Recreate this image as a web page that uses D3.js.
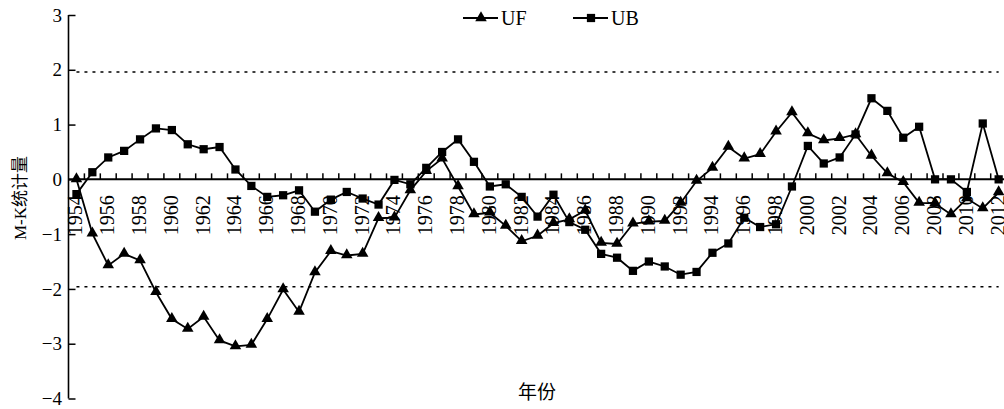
<!DOCTYPE html>
<html><head><meta charset="utf-8">
<script src="https://cdn.jsdelivr.net/npm/d3@7"></script>
<style>
html,body{margin:0;padding:0;background:#fff;}
svg{display:block;}
text{fill:#000;}
</style></head>
<body>
<svg id="c" width="1004" height="409"></svg>
<script>
const years = d3.range(1954, 2013);
const UF = [0.00, -0.99, -1.57, -1.36, -1.48, -2.06, -2.55, -2.73, -2.51, -2.94, -3.05, -3.02, -2.55, -2.01, -2.42,
  -1.70, -1.31, -1.39, -1.36, -0.71, -0.70, -0.20, 0.15, 0.38, -0.13, -0.64, -0.61, -0.85, -1.13, -1.03,
  -0.80, -0.73, -0.57, -1.16, -1.18, -0.81, -0.77, -0.76, -0.43, -0.03, 0.21, 0.59, 0.38, 0.46, 0.87,
  1.22, 0.84, 0.71, 0.75, 0.82, 0.43, 0.11, -0.05, -0.43, -0.44, -0.64, -0.35, -0.53, -0.24];
const UB = [-0.27, 0.13, 0.40, 0.52, 0.73, 0.93, 0.90, 0.64, 0.55, 0.59, 0.18, -0.12, -0.32, -0.29, -0.20,
  -0.59, -0.37, -0.23, -0.35, -0.46, -0.01, -0.09, 0.21, 0.50, 0.73, 0.32, -0.13, -0.09, -0.32, -0.68,
  -0.28, -0.78, -0.92, -1.36, -1.43, -1.67, -1.50, -1.59, -1.74, -1.69, -1.34, -1.17, -0.70, -0.87, -0.82,
  -0.13, 0.61, 0.29, 0.40, 0.82, 1.48, 1.25, 0.76, 0.96, 0.00, 0.00, -0.23, 1.02, 0.00];
const yTicks = [3, 2, 1, 0, -1, -2, -3, -4];
const xLabels = years.filter(y => y % 2 === 0);
const critical = [1.96, -1.96];
const seriesNames = ["UF", "UB"];

const svg = d3.select("#c");
const x0 = 68.5, bw = 15.9;
const x = d3.scaleBand().domain(years).range([x0, x0 + bw * years.length]).padding(0);
const cx = d => x(d) + x.bandwidth() / 2;
const y = d3.scaleLinear().domain([-4, 3]).range([398.5, 15]);
const serif = "'Liberation Serif','Times New Roman',serif";
const cjk = "'Liberation Serif','Noto Sans CJK SC',serif";

// critical dotted lines
svg.selectAll(".crit").data(critical).enter().append("line")
  .attr("x1", cx(years[0])).attr("x2", cx(years[years.length - 1]))
  .attr("y1", d => y(d)).attr("y2", d => y(d))
  .attr("stroke", "#000").attr("stroke-width", 1.5).attr("stroke-dasharray", "3,5");

// y axis
const yAxis = d3.axisRight(y).tickValues(yTicks).tickSize(7).tickFormat("");
const gy = svg.append("g").attr("transform", `translate(${x0},0)`).call(yAxis);
gy.select(".domain").attr("stroke", "#000").attr("stroke-width", 1.6).attr("d", `M0,${y(3)}V${y(-4)}`);
gy.selectAll(".tick line").attr("stroke", "#000").attr("stroke-width", 1.5);
svg.selectAll(".ylab").data(yTicks).enter().append("text")
  .attr("x", 62).attr("y", d => y(d)).attr("dy", "0.35em")
  .attr("text-anchor", "end").style("font-family", serif).style("font-size", "19px")
  .text(d => d < 0 ? "\u2212" + Math.abs(d) : d);

// x axis at zero
const boundaries = years.slice(1).map(d => x(d)).concat([x0 + bw * years.length]);
svg.append("line").attr("x1", x0).attr("x2", 1004).attr("y1", y(0)).attr("y2", y(0))
  .attr("stroke", "#000").attr("stroke-width", 2);
svg.selectAll(".xt").data(boundaries).enter().append("line")
  .attr("x1", d => d).attr("x2", d => d).attr("y1", y(0)).attr("y2", y(0) - 6)
  .attr("stroke", "#000").attr("stroke-width", 1.5);
svg.selectAll(".xlab").data(xLabels).enter().append("text")
  .attr("transform", d => `translate(${cx(d) - 1},${y(0) + 16}) rotate(-90)`)
  .attr("dy", "0.35em").attr("text-anchor", "end")
  .style("font-family", serif).style("font-size", "20px")
  .text(d => d);

// series
const line = d3.line().x((d, i) => cx(years[i])).y(d => y(d));
const data = [UF, UB];
const shapes = [d3.symbolTriangle, d3.symbolSquare];
const sizes = [58, 68];
data.forEach((vals, k) => {
  svg.append("path").datum(vals).attr("d", line).attr("fill", "none")
    .attr("stroke", "#000").attr("stroke-width", 1.8);
  svg.selectAll(".m" + k).data(vals).enter().append("path")
    .attr("transform", (d, i) => `translate(${cx(years[i])},${y(d) + (k === 0 ? -0.5 : 0)})`)
    .attr("d", d3.symbol().type(shapes[k]).size(sizes[k])).attr("fill", "#000");
});

// legend
const legX = [463, 573];
seriesNames.forEach((n, k) => {
  const lx = legX[k];
  svg.append("line").attr("x1", lx).attr("x2", lx + 35).attr("y1", 18).attr("y2", 18)
    .attr("stroke", "#000").attr("stroke-width", 1.8);
  svg.append("path").attr("transform", `translate(${lx + 18},18)`)
    .attr("d", d3.symbol().type(shapes[k]).size(sizes[k])).attr("fill", "#000");
  svg.append("text").attr("x", lx + 38).attr("y", 18).attr("dy", "0.35em")
    .style("font-family", serif).style("font-size", "20px").text(n);
});

// axis titles
svg.append("text").attr("transform", "translate(20,198) rotate(-90)")
  .attr("text-anchor", "middle").attr("dy", "0.35em")
  .style("font-family", cjk).style("font-size", "17px").text("M-K统计量");
svg.append("text").attr("x", 537).attr("y", 392).attr("dy", "0.35em")
  .attr("text-anchor", "middle").style("font-family", cjk).style("font-size", "19px").text("年份");
</script>
</body></html>
